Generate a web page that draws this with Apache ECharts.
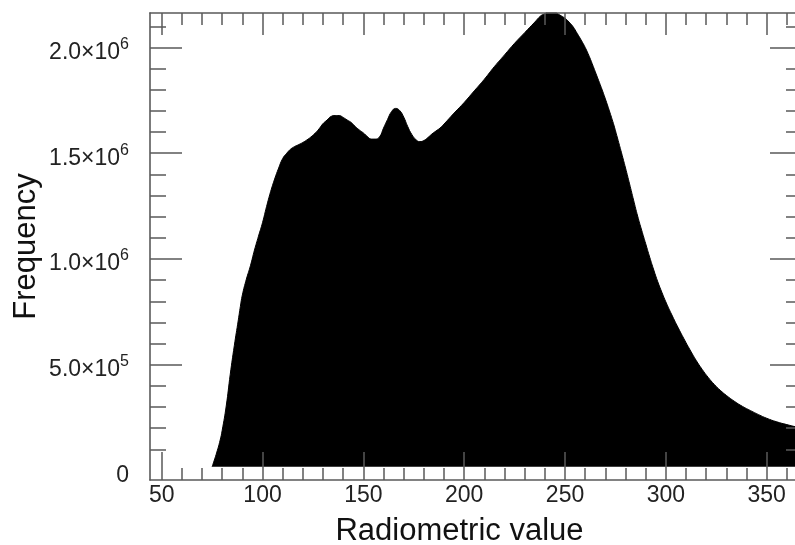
<!DOCTYPE html>
<html>
<head>
<meta charset="utf-8">
<script src="https://cdn.jsdelivr.net/npm/echarts@6/dist/echarts.min.js"></script>
<style>html,body{margin:0;padding:0;background:#fff;}#c{width:795px;height:545px;}</style>
</head>
<body>
<div id="c"></div>
<script>
// Radiometric value (x) and frequency (y)
const radiometric = [75,77,79,80,82,84,86,88,89,90,92,94,96,98,100,102,104,106,108,110,112,114,116,118,120,122,124,126,128,130,132,134,136,138,140,142,144,146,148,150,152,154,156,158,160,162,164,166,168,170,172,174,176,178,180,182,184,186,188,190,195,200,205,210,215,220,225,230,235,238,240,242,244,246,248,250,252,254,256,258,260,262,264,266,268,270,272,274,276,278,280,282,284,286,288,290,292,294,296,298,300,303,306,309,312,315,318,321,324,327,330,334,338,342,346,350,355,360,365,368];
const frequency = [18000,76000,144000,190000,305000,455000,590000,712000,775000,830000,905000,968000,1042000,1108000,1172000,1248000,1318000,1378000,1430000,1475000,1500000,1520000,1532000,1541000,1551000,1563000,1577000,1594000,1615000,1640000,1657000,1674000,1678000,1678000,1669000,1657000,1645000,1626000,1610000,1596000,1579000,1567000,1567000,1577000,1619000,1660000,1697000,1712000,1702000,1671000,1626000,1589000,1565000,1555000,1560000,1574000,1591000,1605000,1619000,1638000,1690000,1740000,1795000,1850000,1910000,1965000,2020000,2070000,2120000,2150000,2160000,2172000,2174000,2162000,2150000,2138000,2120000,2098000,2067000,2035000,2000000,1958000,1910000,1860000,1810000,1757000,1700000,1640000,1572000,1502000,1430000,1355000,1278000,1203000,1136000,1072000,1008000,948000,892000,843000,797000,735000,677000,622000,570000,521000,478000,440000,407000,379000,355000,327000,303000,283000,264000,247000,230000,217000,205000,199000];
const fillBase = 18000;

// Axis ranges and ticks
const xRange = [44.2, 367.5];
const yRange = [-44900, 2163000];
const xMajorTicks = [50,100,150,200,250,300,350];
const xMinorTicks = [60,70,80,90,110,120,130,140,160,170,180,190,210,220,230,240,260,270,280,290,310,320,330,340,360];
const yLabelValues = [0,500000,1000000,1500000,2000000];
const yMajorTicks = [500000,1000000,1500000,2000000];
const yMinorTicks = [100000,200000,300000,400000,600000,700000,800000,900000,1100000,1200000,1300000,1400000,1600000,1700000,1800000,1900000,2100000];

const FONT = 'Liberation Sans';
const AX = '#5a5a5a';

function yFmt(v){
  if (v === 0) return '{m|0}';
  const e = Math.floor(Math.log10(v) + 1e-9);
  const m = (v / Math.pow(10, e)).toFixed(1);
  return '{m|' + m + '\u00d710}{s|' + e + '}';
}

function xAx(pos, major, withLabel){
  return {
    type: 'value', position: pos, min: xRange[0], max: xRange[1], z: 5,
    axisLine: {show: major, onZero: false, lineStyle: {color: AX, width: 1.6}},
    axisTick: {show: true, inside: true, customValues: major ? xMajorTicks : xMinorTicks,
      length: major ? (pos === 'bottom' ? 28 : 22) : 12, lineStyle: {color: AX, width: 1.5}},
    axisLabel: withLabel ? {show: true, customValues: xMajorTicks, fontFamily: FONT, fontSize: 23, color: '#222', margin: 4} : {show: false},
    splitLine: {show: false}, minorTick: {show: false}
  };
}
function yAx(pos, major, withLabel){
  return {
    type: 'value', position: pos, min: yRange[0], max: yRange[1], z: 5,
    axisLine: {show: major, onZero: false, lineStyle: {color: AX, width: 1.6}},
    axisTick: {show: true, inside: true, customValues: major ? yMajorTicks : yMinorTicks,
      length: major ? 32 : 16, lineStyle: {color: AX, width: 1.5}},
    axisLabel: withLabel ? {show: true, customValues: yLabelValues, formatter: yFmt, margin: 21,
      padding: [10, 0, 0, 0],
      rich: {
        m: {fontFamily: FONT, fontSize: 23, color: '#222'},
        s: {fontFamily: FONT, fontSize: 16, color: '#222', padding: [0, 0, 16, 0]}
      }} : {show: false},
    splitLine: {show: false}, minorTick: {show: false}
  };
}

const xAxes = [xAx('bottom', true, true), xAx('bottom', false, false), xAx('top', true, false), xAx('top', false, false)];
xAxes[0].name = 'Radiometric value';
xAxes[0].nameLocation = 'middle';
xAxes[0].nameGap = 36;
xAxes[0].nameMoveOverlap = false;
xAxes[0].nameTextStyle = {fontFamily: FONT, fontSize: 31, color: '#111', padding: [0, 33, 0, 0]};

const yAxes = [yAx('left', true, true), yAx('left', false, false), yAx('right', true, false), yAx('right', false, false)];
yAxes[0].name = 'Frequency';
yAxes[0].nameLocation = 'middle';
yAxes[0].nameGap = 108;
yAxes[0].nameRotate = 90;
yAxes[0].nameMoveOverlap = false;
yAxes[0].nameTextStyle = {fontFamily: FONT, fontSize: 31, color: '#111'};

const chart = echarts.init(document.getElementById('c'), null, {renderer: 'canvas'});
chart.setOption({
  animation: false,
  backgroundColor: '#fff',
  grid: {left: 150, top: 13, right: -7, bottom: 65, containLabel: false, outerBoundsMode: 'none'},
  xAxis: xAxes,
  yAxis: yAxes,
  series: [{
    type: 'line', xAxisIndex: 0, yAxisIndex: 0, z: 1,
    data: radiometric.map((x, i) => [x, frequency[i]]),
    showSymbol: false, smooth: 0.5, clip: true,
    lineStyle: {color: '#000', width: 1},
    areaStyle: {color: '#000', opacity: 1, origin: fillBase}
  }]
});
</script>
</body>
</html>
